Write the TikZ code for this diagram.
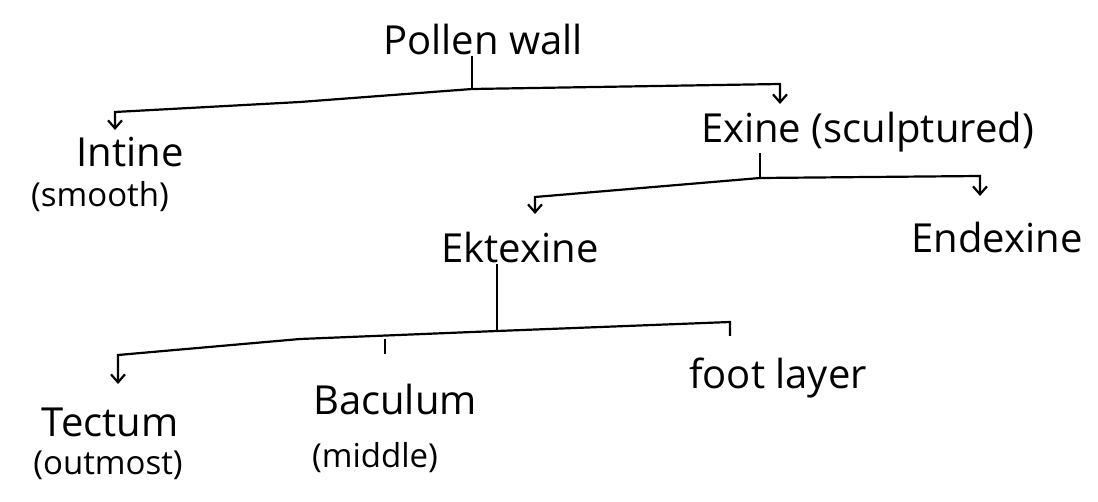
\documentclass[tikz,border=0pt]{standalone}
\usepackage{fontspec}
\setmainfont{Open Sans}
\usetikzlibrary{arrows.meta}

\begin{document}
\begin{tikzpicture}[x=0.5pt,y=-0.5pt,>={Straight Barb[length=4pt,width=7pt]},line width=1.1pt,
  lbl/.style={font=\fontsize{20}{24}\selectfont,inner sep=0pt},
  note/.style={font=\fontsize{16.5}{20}\selectfont,inner sep=0pt}]
\useasboundingbox (0,0) rectangle (1098,502);
% labels
\node[lbl] (pollen) at (483,40) {Pollen wall};
\node[lbl] (intine) at (130,152) {Intine};
\node[note] (smooth) at (100,197) {(smooth)};
\node[lbl,anchor=west] (exine) at (700,132) {Exine (sculptured)};
\node[lbl] (ektexine) at (520,248) {Ektexine};
\node[lbl] (endexine) at (997,238) {Endexine};
\node[lbl] (tectum) at (110,422) {Tectum};
\node[note] (outmost) at (108,465) {(outmost)};
\node[lbl] (baculum) at (395,400) {Baculum};
\node[note] (middle) at (375,458) {(middle)};
\node[lbl] (foot) at (778,378) {foot layer};
% pollen wall branches
\coordinate (wall) at (472,89);
\coordinate (wl) at (115,112);
\coordinate (wm) at (300,102);
\coordinate (wr) at (780,84);
\coordinate (intip) at (115,130);
\coordinate (extip) at (780,104);
\draw (pollen.south -| wall) -- (wall);
\draw[->] (wall) -- (wm) -- (wl) -- (intip);
\draw[->] (wall) -- (wr) -- (extip);
% exine branches
\coordinate (ex) at (760,178);
\coordinate (exl) at (535,197);
\coordinate (exr) at (980,176);
\coordinate (ektip) at (535,214);
\coordinate (entip) at (980,196);
\draw (ex |- exine.south) -- (ex);
\draw[->] (ex) -- (exl) -- (ektip);
\draw[->] (ex) -- (exr) -- (entip);
% ektexine branches
\coordinate (ek) at (497,331);
\coordinate (ekl) at (118,355);
\coordinate (ekm) at (300,339);
\coordinate (ekr) at (730,322);
\coordinate (tetip) at (118,384);
\coordinate (baup) at (385,339);
\coordinate (balow) at (385,354);
\coordinate (fttip) at (730,336);
\draw (ek |- ektexine.south) -- (ek);
\draw[->] (ek) -- (ekm) -- (ekl) -- (tetip);
\draw (ek) -- (ekr) -- (fttip);
\draw (baup) -- (balow);
\end{tikzpicture}
\end{document}
